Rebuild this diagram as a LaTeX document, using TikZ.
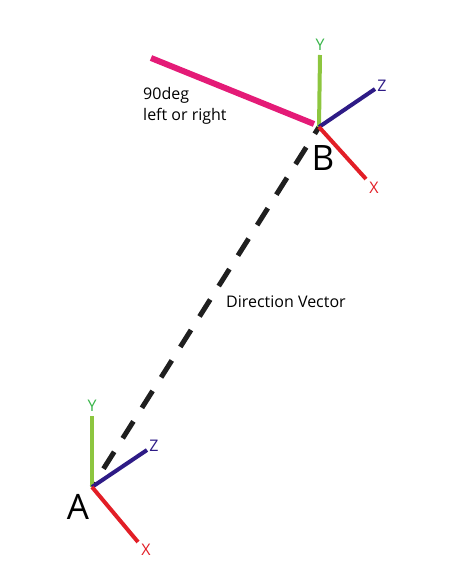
\documentclass[tikz,border=0pt]{standalone}
\usepackage{fontspec}
\setmainfont{Open Sans}
\definecolor{axgreen}{RGB}{141,198,63}
\definecolor{lblgreen}{RGB}{57,181,74}
\definecolor{axpurple}{RGB}{46,27,134}
\definecolor{axred}{RGB}{226,30,38}
\definecolor{magentaline}{RGB}{228,27,119}
\begin{document}
\begin{tikzpicture}[x=1pt,y=-1pt,
  axis/.style={line width=4pt},
  axlbl/.style={font=\fontsize{16}{16}\selectfont, inner sep=0pt},
  bigl/.style={font=\fontsize{35}{35}\selectfont, inner sep=0pt},
  txt/.style={font=\fontsize{16}{21}\selectfont, inner sep=0pt, align=left}]
\useasboundingbox (0,0) rectangle (464,572);
% B frame
\coordinate (B) at (319,127);
\coordinate (BY) at (320,55);
\coordinate (BZ) at (375,89);
\coordinate (BX) at (366,179);
\coordinate (M) at (151,58);
\coordinate (Mend) at (314,124);
% A frame
\coordinate (A) at (92,487);
\coordinate (AY) at (92,416);
\coordinate (AZ) at (147,450);
\coordinate (AX) at (138,542);
% dashed vector
\draw[black!88, line width=5pt, dash pattern=on 20pt off 16pt, dash phase=12pt] (B) -- (A);
\draw[magentaline, line width=6pt] (M) -- (Mend);
\draw[axis, axgreen] (B) -- (BY);
\draw[axis, axpurple] (B) -- (BZ);
\draw[axis, axred] (B) -- (BX);
\draw[axis, axgreen] (A) -- (AY);
\draw[axis, axpurple] (A) -- (AZ);
\draw[axis, axred] (A) -- (AX);
% labels
\node[axlbl, text=lblgreen] (lBY) at (320,45) {Y};
\node[axlbl, text=axpurple] (lBZ) at (382,86) {Z};
\node[axlbl, text=axred] (lBX) at (374,188) {X};
\node[bigl] (lB) at (323,158) {B};
\node[axlbl, text=lblgreen] (lAY) at (92,406) {Y};
\node[axlbl, text=axpurple] (lAZ) at (154,446) {Z};
\node[axlbl, text=axred] (lAX) at (146,550) {X};
\node[bigl] (lA) at (78,507) {A};
\node[txt, anchor=west] (dv) at (226,302) {Direction Vector};
\node[txt, anchor=north west] (deg) at (143,87) {90deg\\left or right};
\end{tikzpicture}
\end{document}
